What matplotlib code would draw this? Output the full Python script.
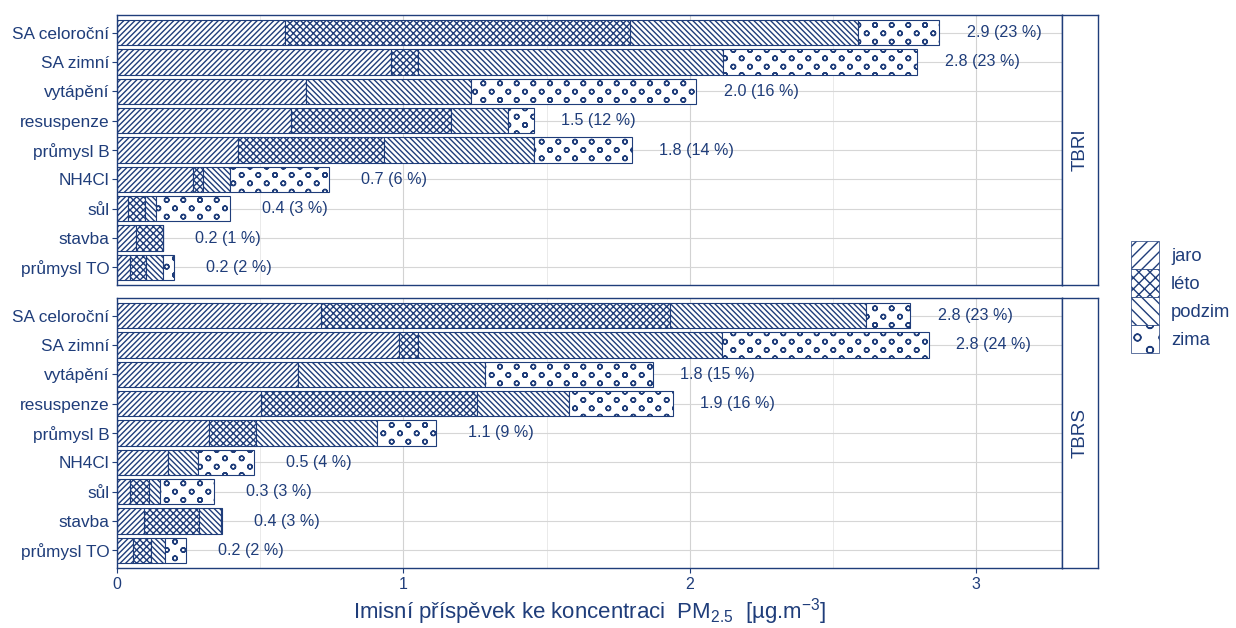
import numpy as np
import matplotlib
matplotlib.use("Agg")
import matplotlib.pyplot as plt
import matplotlib.hatch as mhatch
from matplotlib.path import Path
from matplotlib.patches import Patch

# ---------------- data ----------------
categories = ["SA celoroční", "SA zimní", "vytápění", "resuspenze", "průmysl B",
              "NH4Cl", "sůl", "stavba", "průmysl TO"]
seasons = ["jaro", "léto", "podzim", "zima"]
facets = ["TBRI", "TBRS"]

tbri_jaro   = [0.587, 0.956, 0.659, 0.608, 0.421, 0.267, 0.039, 0.065, 0.044]
tbri_leto   = [1.203, 0.094, 0.000, 0.559, 0.511, 0.033, 0.058, 0.094, 0.056]
tbri_podzim = [0.797, 1.067, 0.577, 0.199, 0.523, 0.094, 0.038, 0.000, 0.062]
tbri_zima   = [0.285, 0.678, 0.787, 0.089, 0.343, 0.348, 0.259, 0.000, 0.038]
tbri_labels = ["2.9 (23 %)", "2.8 (23 %)", "2.0 (16 %)", "1.5 (12 %)", "1.8 (14 %)",
               "0.7 (6 %)", "0.4 (3 %)", "0.2 (1 %)", "0.2 (2 %)"]

tbrs_jaro   = [0.713, 0.985, 0.631, 0.504, 0.322, 0.177, 0.046, 0.093, 0.057]
tbrs_leto   = [1.219, 0.067, 0.000, 0.753, 0.164, 0.000, 0.066, 0.193, 0.063]
tbrs_podzim = [0.684, 1.061, 0.655, 0.321, 0.421, 0.106, 0.038, 0.076, 0.046]
tbrs_zima   = [0.153, 0.722, 0.584, 0.363, 0.206, 0.194, 0.188, 0.003, 0.074]
tbrs_labels = ["2.8 (23 %)", "2.8 (24 %)", "1.8 (15 %)", "1.9 (16 %)", "1.1 (9 %)",
               "0.5 (4 %)", "0.3 (3 %)", "0.4 (3 %)", "0.2 (2 %)"]

x_ticks = [0, 1, 2, 3]

# ---------------- style ----------------
NAVY = "#1f3d7a"
bar_hatches = ["//////", "xxxxx", "\\\\\\\\\\\\", "oo"]
legend_hatches = ["///", "xxx", "\\\\\\", "o"]

plt.rcParams["font.family"] = ["Liberation Sans", "DejaVu Sans"]
plt.rcParams["mathtext.fontset"] = "custom"
plt.rcParams["mathtext.rm"] = "Liberation Sans"
plt.rcParams["mathtext.it"] = "Liberation Sans:italic"
plt.rcParams["mathtext.bf"] = "Liberation Sans:bold"
plt.rcParams["hatch.linewidth"] = 1.0


# custom staggered circle hatch (rows twice as dense as columns)
class ZimaCircles(mhatch.HatchPatternBase):
    def __init__(self, hatch, density):
        n = hatch.count("o")
        self.m = {0: 0, 1: 4, 2: 6}.get(n, 3 * n)
        circ = Path.unit_circle()
        self.shape_vertices = circ.vertices
        self.shape_codes = circ.codes
        if self.m == 0:
            self.num_vertices = 0
        else:
            m = self.m
            self.num_shapes = (m + 1) * (m + 1) + m * m
            self.num_vertices = self.num_shapes * len(self.shape_vertices) * 2

    def set_vertices_and_codes(self, vertices, codes):
        m = self.m
        r = 0.138 / m
        sv = self.shape_vertices * r
        sv = np.concatenate([sv, sv[::-1] * 0.9])
        sc = np.concatenate([self.shape_codes, self.shape_codes])
        vparts, cparts = [], []
        for row in range(2 * m + 1):
            yy = row / (2 * m)
            if row % 2 == 0:
                cols = np.linspace(0, 1, m + 1)
            else:
                cols = np.linspace(0.5 / m, 1 - 0.5 / m, m)
            for xx in cols:
                vparts.append(sv + [xx, yy])
                cparts.append(sc)
        np.concatenate(vparts, out=vertices)
        np.concatenate(cparts, out=codes)


mhatch._hatch_types = [ZimaCircles if t is mhatch.SmallCircles else t
                       for t in mhatch._hatch_types]

# ---------------- figure ----------------
W, H = 1236, 628
fig = plt.figure(figsize=(W / 100, H / 100), dpi=100)

px_left, px_right = 117, 1062
strip_right = 1098
panels_px = [(15, 285), (298, 568)]

data = {
    "TBRI": ([tbri_jaro, tbri_leto, tbri_podzim, tbri_zima], tbri_labels),
    "TBRS": ([tbrs_jaro, tbrs_leto, tbrs_podzim, tbrs_zima], tbrs_labels),
}

y = np.arange(len(categories))
axes = []
for i, facet in enumerate(facets):
    top, bot = panels_px[i]
    rect = [px_left / W, 1 - bot / H, (px_right - px_left) / W, (bot - top) / H]
    ax = fig.add_axes(rect)
    axes.append(ax)
    series, labels = data[facet]
    left = np.zeros(len(categories))
    for s, vals in enumerate(series):
        vals = np.array(vals)
        ax.barh(y, vals, left=left, height=0.87, color="white",
                edgecolor=NAVY, linewidth=0.8, hatch=bar_hatches[s], zorder=2)
        left = left + vals
    for yi, tot, lab in zip(y, left, labels):
        ax.text(tot + 0.227, yi, lab, ha="center", va="center",
                fontsize=11.6, color=NAVY, zorder=3)

    ax.set_xlim(0, 3.30)
    ax.set_ylim(len(categories) - 0.4, -0.6)
    ax.set_yticks(y)
    ax.set_yticklabels(categories)
    ax.set_xticks(x_ticks)
    ax.set_xticks([0.5, 1.5, 2.5], minor=True)
    ax.set_axisbelow(True)
    ax.grid(axis="x", which="major", color="#d2d2d2", linewidth=0.8)
    ax.grid(axis="x", which="minor", color="#e6e6e6", linewidth=0.6)
    ax.grid(axis="y", which="major", color="#d6d6d6", linewidth=0.8)
    ax.tick_params(axis="y", length=3.5, width=0.8, color=NAVY,
                   labelcolor=NAVY, labelsize=12.4, pad=2)
    ax.tick_params(axis="x", which="minor", length=0)
    for sp in ax.spines.values():
        sp.set_color(NAVY)
        sp.set_linewidth(1.0)
    if i == 0:
        ax.tick_params(axis="x", which="major", length=0, labelbottom=False)
    else:
        ax.set_xticklabels([str(t) for t in x_ticks])
        ax.tick_params(axis="x", which="major", length=3.5, width=0.8,
                       color=NAVY, labelcolor=NAVY, labelsize=11.5, pad=3)
        ax.set_xlabel("Imisní příspěvek ke koncentraci  PM$_{2.5}$  [µg.m$^{-3}$]",
                      fontsize=16, color=NAVY, labelpad=3)

    # strip
    srect = [px_right / W, 1 - bot / H, (strip_right - px_right) / W, (bot - top) / H]
    sax = fig.add_axes(srect)
    sax.set_facecolor("white")
    sax.set_xticks([])
    sax.set_yticks([])
    for sp in sax.spines.values():
        sp.set_color(NAVY)
        sp.set_linewidth(1.0)
    sax.text(0.5, 0.5, facet, rotation=90, ha="center", va="center",
             fontsize=13.5, color=NAVY, transform=sax.transAxes)

# legend
handles = [Patch(facecolor="white", edgecolor=NAVY, linewidth=0.5, hatch=h)
           for h in legend_hatches]
fs_leg = 13.2
fs_px = fs_leg * 100 / 72
hh = (28 / fs_px - 0.245) / 0.65
fig.legend(handles, seasons, loc="upper left",
           bbox_to_anchor=(1131 / W, 1 - 241 / H), frameon=False,
           fontsize=fs_leg, labelcolor=NAVY, borderpad=0, borderaxespad=0,
           labelspacing=0, handlelength=28 / fs_px, handleheight=hh,
           handletextpad=12 / fs_px)

fig.savefig("out.png", dpi=100)
